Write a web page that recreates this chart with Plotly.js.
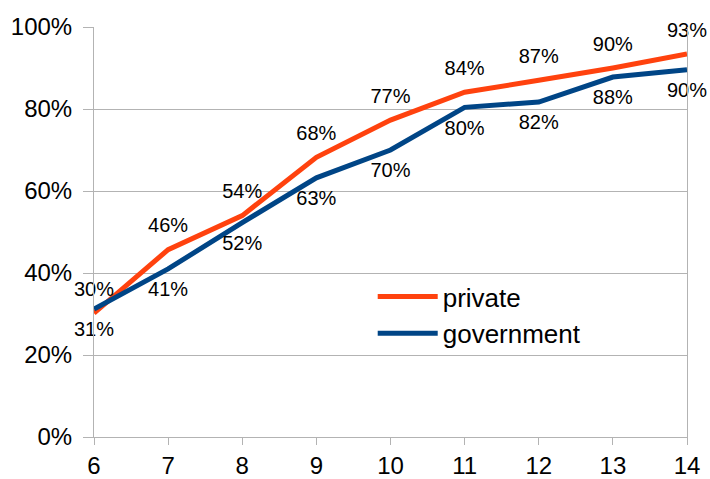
<!DOCTYPE html>
<html><head><meta charset="utf-8">
<script src="https://cdn.plot.ly/plotly-3.0.1.min.js"></script>
<style>html,body{margin:0;padding:0;background:#fff}#chart{width:710px;height:479px}</style>
</head><body><div id="chart"></div>
<script>
const years = [6, 7, 8, 9, 10, 11, 12, 13, 14];
const privateVals = [0.302, 0.457, 0.54, 0.682, 0.773, 0.841, 0.870, 0.900, 0.934];
const governmentVals = [0.312, 0.410, 0.523, 0.632, 0.700, 0.804, 0.817, 0.878, 0.896];
const yTicks = [0, 0.2, 0.4, 0.6, 0.8, 1.0];

const font = 'Liberation Sans, Arial, sans-serif';
const traces = [
  {x: years, y: privateVals, name: 'private', mode: 'lines+markers+text', type: 'scatter',
   line: {color: '#ff420e', width: 5}, marker: {size: 18, color: 'rgba(0,0,0,0)'},
   texttemplate: '%{y:.0%}', textposition: 'top center',
   textfont: {family: font, size: 20, color: '#000'}, cliponaxis: false},
  {x: years, y: governmentVals, name: 'government', mode: 'lines+markers+text', type: 'scatter',
   line: {color: '#004586', width: 5}, marker: {size: 18, color: 'rgba(0,0,0,0)'},
   texttemplate: '%{y:.0%}', textposition: 'bottom center',
   textfont: {family: font, size: 20, color: '#000'}, cliponaxis: false}
];
const layout = {
  width: 710, height: 479,
  margin: {l: 94, r: 23, t: 27, b: 42},
  paper_bgcolor: '#fff', plot_bgcolor: '#fff',
  font: {family: font, size: 24, color: '#000'},
  showlegend: true,
  legend: {x: 0.47, y: 0.40, xanchor: 'left', yanchor: 'top', font: {family: font, size: 26},
           bgcolor: 'rgba(0,0,0,0)', tracegroupgap: 0, itemwidth: 60},
  xaxis: {range: [6, 14], tickvals: years, showgrid: false, zeroline: false,
          showline: true, linecolor: '#b3b3b3', linewidth: 1, ticklabelstandoff: 0,
          ticks: 'outside', ticklen: 7, tickcolor: '#b3b3b3', tickfont: {size: 24}},
  yaxis: {range: [0, 1], tickvals: yTicks, tickformat: '.0%', showgrid: true, gridcolor: '#b3b3b3',
          zeroline: false, showline: true, mirror: true, linecolor: '#b3b3b3', linewidth: 1,
          ticklabelstandoff: 6,
          ticks: 'outside', ticklen: 10, tickcolor: '#b3b3b3', tickfont: {size: 24}}
};
Plotly.newPlot('chart', traces, layout, {displayModeBar: false, staticPlot: true});
</script></body></html>
